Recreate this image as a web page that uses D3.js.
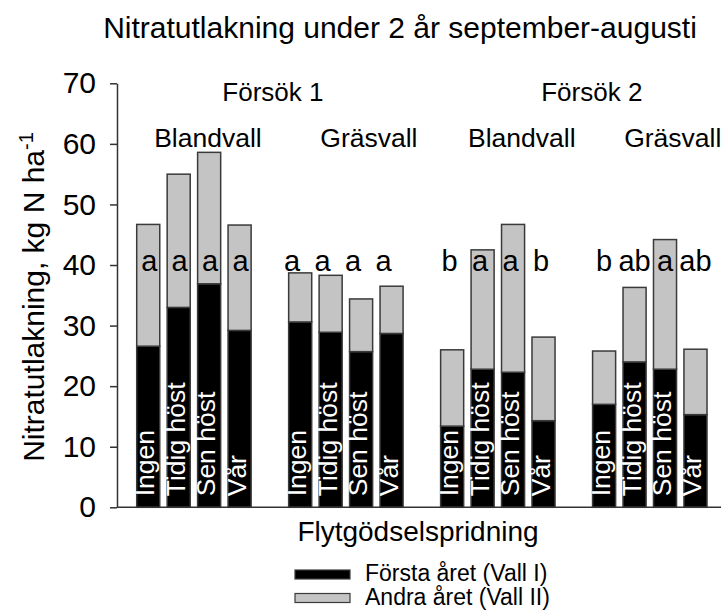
<!DOCTYPE html>
<html>
<head>
<meta charset="utf-8">
<script src="https://cdn.jsdelivr.net/npm/d3@7"></script>
<style>
  body { margin: 0; background: #fff; }
  text { font-family: "Liberation Sans", Arial, sans-serif; fill: #000; }
</style>
</head>
<body>
<div id="app"></div>
<script>
// data
const groups = ["F1-Blandvall", "F1-Gräsvall", "F2-Blandvall", "F2-Gräsvall"];
const leyNames = ["Blandvall", "Gräsvall", "Blandvall", "Gräsvall"];
const trialNames = ["Försök 1", "Försök 2"];
const treatments = ["Ingen", "Tidig höst", "Sen höst", "Vår"];
const firstYear = [
  [26.6, 33.0, 36.9, 29.2],
  [30.6, 28.9, 25.7, 28.7],
  [13.4, 22.8, 22.3, 14.3],
  [17.0, 24.0, 22.8, 15.3]
];
const secondYear = [
  [20.1, 22.0, 21.7, 17.4],
  [8.1, 9.4, 8.7, 7.8],
  [12.6, 19.7, 24.4, 13.8],
  [8.8, 12.3, 21.4, 10.8]
];
const letters = [
  ["a", "a", "a", "a"],
  ["a", "a", "a", "a"],
  ["b", "a", "a", "b"],
  ["b", "ab", "a", "ab"]
];
const yTicks = [0, 10, 20, 30, 40, 50, 60, 70];
const seriesNames = ["Första året (Vall I)", "Andra året (Vall II)"];
const seriesColors = ["#000000", "#c4c4c4"];

// layout
const W = 723, H = 613;
const axisLeft = 117, axisRight = 721;

let svg = d3.select("#app")
  .append("svg")
    .attr("width", W)
    .attr("height", H);

// flatten into rows for stacking
let rows = [];
groups.forEach((g, gi) => {
  treatments.forEach((t, ti) => {
    rows.push({ group: g, gi: gi, treat: t, ti: ti,
      first: firstYear[gi][ti], second: secondYear[gi][ti], letter: letters[gi][ti] });
  });
});

let y = d3.scaleLinear().domain([0, 70]).range([507.3, 83.3]);

let x0 = d3.scaleBand()
  .domain(groups)
  .range([136.7, 707])
  .paddingInner(0.247)
  .paddingOuter(0);

let x1 = d3.scaleBand()
  .domain(treatments)
  .range([0, x0.bandwidth()])
  .paddingInner(0.243)
  .paddingOuter(0);

let stack = d3.stack().keys(["first", "second"]);
let stacked = stack(rows);

// title
svg.append("text")
  .attr("x", 400)
  .attr("y", 38)
  .attr("text-anchor", "middle")
  .style("font-size", "30px")
  .text("Nitratutlakning under 2 år september-augusti");

// bars
svg.selectAll("g.layer")
  .data(stacked)
  .enter()
  .append("g")
    .attr("class", "layer")
    .attr("fill", (d, i) => seriesColors[i])
  .selectAll("rect")
  .data(d => d)
  .enter()
  .append("rect")
    .attr("x", d => x0(d.data.group) + x1(d.data.treat))
    .attr("y", d => y(d[1]))
    .attr("width", x1.bandwidth())
    .attr("height", d => y(d[0]) - y(d[1]))
    .attr("stroke", "#3a3a3a")
    .attr("stroke-width", 1.5);

// treatment names inside bars
svg.append("g")
  .selectAll("text")
  .data(rows)
  .enter()
  .append("text")
    .attr("transform", d => {
      let cx = x0(d.group) + x1(d.treat) + x1.bandwidth() / 2 + 6;
      return "translate(" + cx + "," + (y(0) - 11) + ") rotate(-90)";
    })
    .style("font-size", "26.5px")
    .style("fill", "#fff")
    .text(d => d.treat);

// significance letters (hand placed a little off-centre in the original)
let letterShift = [1, -8, -2.5, 0];
svg.append("g")
  .selectAll("text")
  .data(rows)
  .enter()
  .append("text")
    .attr("x", d => x0(d.group) + x1(d.treat) + x1.bandwidth() / 2 + letterShift[d.gi])
    .attr("y", y(39))
    .attr("text-anchor", "middle")
    .style("font-size", "29px")
    .text(d => d.letter);

// ley type labels above groups
let leyShift = [14, 23, 24, 23];
svg.append("g")
  .selectAll("text")
  .data(groups)
  .enter()
  .append("text")
    .attr("x", (d, i) => x0(d) + x0.bandwidth() / 2 + leyShift[i])
    .attr("y", 146.7)
    .attr("text-anchor", "middle")
    .style("font-size", "26.5px")
    .text((d, i) => leyNames[i]);

// trial labels
let trialShift = [3, 18];
svg.append("g")
  .selectAll("text")
  .data(trialNames)
  .enter()
  .append("text")
    .attr("x", (d, i) => {
      let a = x0(groups[i * 2]) + x0.bandwidth() / 2;
      let b = x0(groups[i * 2 + 1]) + x0.bandwidth() / 2;
      return (a + b) / 2 + trialShift[i];
    })
    .attr("y", 100.7)
    .attr("text-anchor", "middle")
    .style("font-size", "26px")
    .text(d => d);

// y axis
let yAxis = svg.append("g")
  .attr("transform", "translate(" + axisLeft + ",0)")
  .call(d3.axisLeft(y).tickValues(yTicks).tickSize(7).tickPadding(14).tickSizeOuter(0));
yAxis.select(".domain").attr("stroke", "#333").attr("stroke-width", 1.5);
yAxis.selectAll(".tick line").attr("stroke", "#333").attr("stroke-width", 1.5);
yAxis.selectAll(".tick text")
  .style("font-size", "30px")
  .style("font-family", "'Liberation Sans', Arial, sans-serif")
  .attr("fill", "#000");

// x baseline
svg.append("line")
  .attr("x1", axisLeft)
  .attr("x2", axisRight)
  .attr("y1", y(0))
  .attr("y2", y(0))
  .attr("stroke", "#333")
  .attr("stroke-width", 1.5);

// y axis title
let ytitle = svg.append("text")
  .attr("transform", "translate(44," + 297 + ") rotate(-90)")
  .attr("text-anchor", "middle")
  .style("font-size", "30px");
ytitle.append("tspan").text("Nitratutlakning, kg N ha");
ytitle.append("tspan")
  .attr("dy", "-0.55em")
  .style("font-size", "20px")
  .text("-1");

// x axis title
svg.append("text")
  .attr("x", 418)
  .attr("y", 541)
  .attr("text-anchor", "middle")
  .style("font-size", "28px")
  .text("Flytgödselspridning");

// legend
let legend = svg.append("g")
  .selectAll("g")
  .data(seriesNames)
  .enter()
  .append("g")
    .attr("transform", (d, i) => "translate(295," + (570 + i * 23.5) + ")");
legend.append("rect")
  .attr("width", 55)
  .attr("height", 9)
  .attr("fill", (d, i) => seriesColors[i])
  .attr("stroke", "#3a3a3a")
  .attr("stroke-width", 1.2);
legend.append("text")
  .attr("x", 70)
  .attr("y", 11)
  .style("font-size", "23px")
  .text(d => d);
</script>
</body>
</html>
